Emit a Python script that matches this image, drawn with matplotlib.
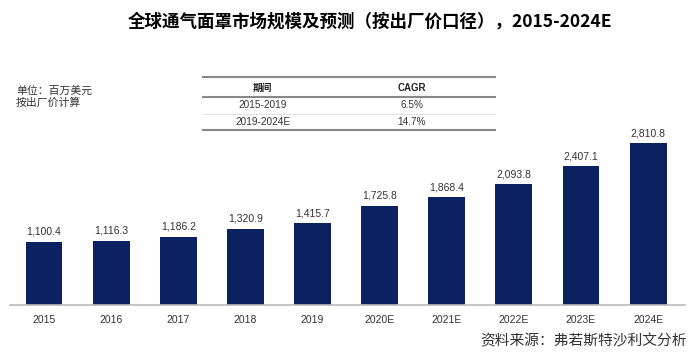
import matplotlib
matplotlib.use("Agg")
import matplotlib.pyplot as plt
from matplotlib.lines import Line2D

plt.rcParams['font.family'] = ['Liberation Sans', 'Noto Sans CJK SC', 'DejaVu Sans']

categories = ['2015', '2016', '2017', '2018', '2019', '2020E', '2021E', '2022E', '2023E', '2024E']
values = [1100.4, 1116.3, 1186.2, 1320.9, 1415.7, 1725.8, 1868.4, 2093.8, 2407.1, 2810.8]
table_header = ['期间', 'CAGR']
table_periods = ['2015-2019', '2019-2024E']
table_cagr = ['6.5%', '14.7%']

title = '全球通气面罩市场规模及预测（按出厂价口径），2015-2024E'
unit_lines = ['单位：百万美元', '按出厂价计算']
source = '资料来源：弗若斯特沙利文分析'

W, H = 700, 363
fig = plt.figure(figsize=(W / 100, H / 100), dpi=100)
fig.patch.set_facecolor('white')

def fx(px):
    return px / W

def fy(py):
    return 1 - py / H

CJK = ['Noto Sans CJK SC', 'DejaVu Sans']

ax = fig.add_axes([fx(10), fy(305), fx(675), (305 - 100) / H])
x = list(range(len(categories)))
ax.bar(x, values, width=0.55, color='#0B2161', zorder=2)
ax.set_ylim(0, 3557)
ax.set_xlim(-0.507, 9.55)
for xi, v in zip(x, values):
    ax.text(xi, v + 85, f'{v:,.1f}', ha='center', va='bottom', fontsize=7.5, color='#333333')
ax.set_xticks(x)
ax.set_xticklabels(categories, fontsize=7.5, color='#333333')
ax.tick_params(axis='x', length=0, pad=7)
ax.set_yticks([])
for s in ['top', 'right', 'left']:
    ax.spines[s].set_visible(False)
ax.spines['bottom'].set_color('#BBBBBB')
ax.spines['bottom'].set_linewidth(1.2)
ax.patch.set_alpha(0)

# Title
fig.text(fx(370), fy(22), title, ha='center', va='center', fontsize=12.6, fontweight='bold',
         family=CJK, color='black')

# Unit text
fig.text(fx(16), fy(91), unit_lines[0], ha='left', va='center', fontsize=7.8,
         family=CJK, color='#333333')
fig.text(fx(16), fy(103), unit_lines[1], ha='left', va='center', fontsize=7.8,
         family=CJK, color='#333333')

# Table
lx0, lx1 = fx(203), fx(495)
for py in [77, 97, 130]:
    fig.add_artist(Line2D([lx0, lx1], [fy(py), fy(py)], color='#888888', lw=1.5))
fig.add_artist(Line2D([lx0, lx1], [fy(114), fy(114)], color='#DDDDDD', lw=0.6))
col1, col2 = fx(263), fx(412)
fig.text(col1, fy(88), table_header[0], ha='center', va='center', fontsize=7, fontweight='bold',
         family=CJK, color='#222222')
fig.text(col2, fy(88), table_header[1], ha='center', va='center', fontsize=7, fontweight='bold',
         color='#222222')
for py, p, c in zip([105, 122], table_periods, table_cagr):
    fig.text(col1, fy(py), p, ha='center', va='center', fontsize=7.2, color='#333333')
    fig.text(col2, fy(py), c, ha='center', va='center', fontsize=7.2, color='#333333')

# Source
fig.text(fx(687), fy(341), source, ha='right', va='center', fontsize=10.6, style='italic',
         family=CJK, color='#333333')

fig.savefig('out.png', dpi=100, facecolor='white')
